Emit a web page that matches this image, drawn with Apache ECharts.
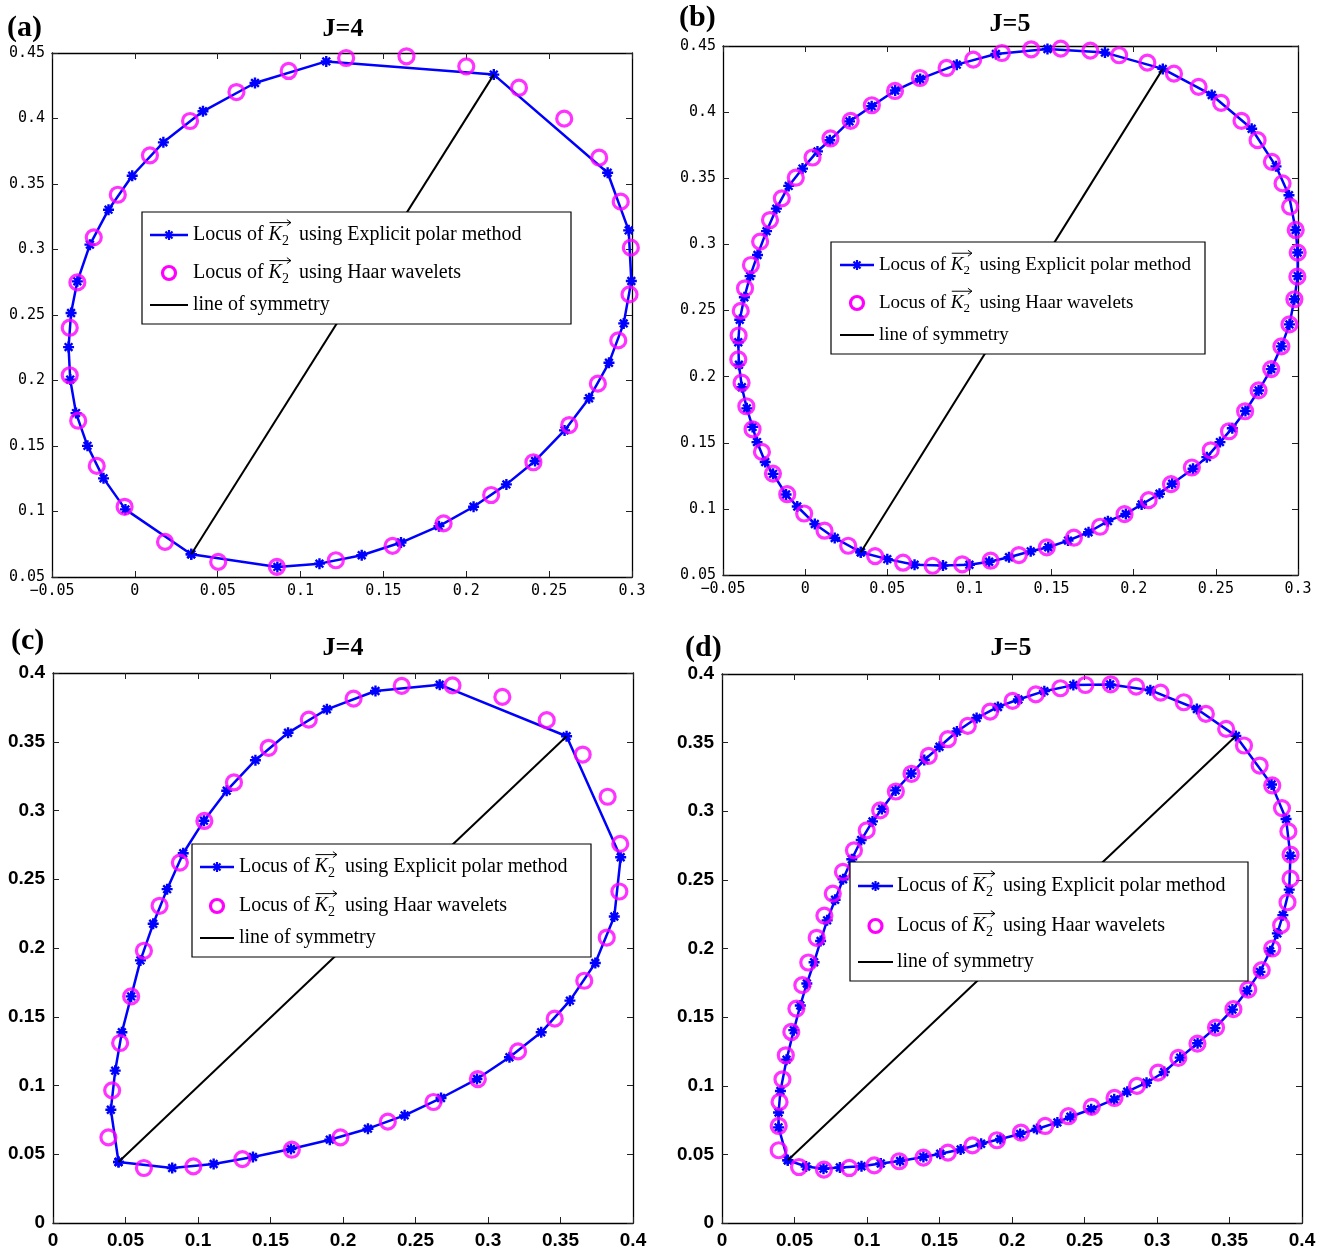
<!DOCTYPE html>
<html>
<head>
<meta charset="utf-8">
<title>Locus of K2</title>
<script src="https://cdn.jsdelivr.net/npm/echarts@6/dist/echarts.min.js"></script>
<style>
  html, body { margin: 0; padding: 0; background: #fff; }
  #main { width: 1320px; height: 1251px; }
</style>
</head>
<body>
<div id="main"></div>
<script>
// values, [x, y] in the order the locus is traced
var explicitA = [
  [0.034, 0.0674], [0.086, 0.0577], [0.1114, 0.0602], [0.1369, 0.0666], [0.1606, 0.0763], [0.1835, 0.0888],
  [0.2044, 0.1036], [0.2242, 0.1207], [0.2415, 0.1386], [0.2593, 0.1619], [0.2741, 0.1864], [0.2861, 0.2135],
  [0.295, 0.2436], [0.2996, 0.2759], [0.298, 0.3146], [0.2853, 0.3586], [0.2166, 0.4335], [0.1155, 0.4436],
  [0.0725, 0.4271], [0.0411, 0.4055], [0.0172, 0.3818], [-0.0016, 0.3563], [-0.0159, 0.3304], [-0.0271, 0.3037],
  [-0.0347, 0.2757], [-0.0385, 0.2515], [-0.040, 0.2255], [-0.039, 0.2007], [-0.0355, 0.1751], [-0.0286, 0.1501],
  [-0.0189, 0.1253], [-0.0057, 0.1016]
];
var haarA = [
  [0.0857, 0.0577], [0.1213, 0.0628], [0.1555, 0.0738], [0.1863, 0.0909], [0.215, 0.1126], [0.2405, 0.1376],
  [0.2621, 0.166], [0.2794, 0.1976], [0.2917, 0.2306], [0.2985, 0.2657], [0.2993, 0.3014], [0.2932, 0.3365],
  [0.2802, 0.3701], [0.2591, 0.3999], [0.2318, 0.4235], [0.2, 0.4398], [0.1639, 0.4475], [0.1275, 0.4462],
  [0.0928, 0.4363], [0.0613, 0.4202], [0.0333, 0.3981], [0.0091, 0.3719], [-0.0103, 0.3418], [-0.0248, 0.3093],
  [-0.0347, 0.2749], [-0.0393, 0.2403], [-0.0393, 0.204], [-0.0342, 0.1693], [-0.023, 0.1348], [-0.0062, 0.1036],
  [0.0182, 0.0768], [0.0503, 0.0615]
];
var symA = [[0.034, 0.0674], [0.2166, 0.4335]];

var explicitB = [
  [0.0339, 0.0672], [0.05, 0.062], [0.0666, 0.0578], [0.0839, 0.0571], [0.1, 0.0578], [0.112, 0.06],
  [0.1241, 0.0634], [0.1373, 0.0679], [0.148, 0.071], [0.16, 0.076], [0.1725, 0.0823], [0.1843, 0.0907],
  [0.1952, 0.0962], [0.2048, 0.1033], [0.2157, 0.1114], [0.2234, 0.119], [0.2361, 0.1303], [0.2445, 0.1391],
  [0.2525, 0.1505], [0.26, 0.161], [0.268, 0.174], [0.276, 0.1895], [0.2837, 0.2057], [0.2899, 0.2229],
  [0.2948, 0.2395], [0.2978, 0.2585], [0.2998, 0.276], [0.2998, 0.2938], [0.2986, 0.3109], [0.2945, 0.3372],
  [0.2866, 0.359], [0.2718, 0.3874], [0.2475, 0.413], [0.2177, 0.4327], [0.1825, 0.445], [0.1475, 0.4477],
  [0.1161, 0.444], [0.0923, 0.4359], [0.07, 0.4251], [0.0548, 0.4163], [0.0405, 0.4045], [0.027, 0.393],
  [0.015, 0.3787], [0.0075, 0.3703], [-0.0016, 0.3573], [-0.010, 0.3442], [-0.0175, 0.327], [-0.0235, 0.31],
  [-0.029, 0.292], [-0.0335, 0.276], [-0.037, 0.26], [-0.0398, 0.243], [-0.0407, 0.226], [-0.0403, 0.209],
  [-0.0385, 0.192], [-0.0355, 0.176], [-0.032, 0.162], [-0.0293, 0.1505], [-0.0243, 0.1354], [-0.0195, 0.1265],
  [-0.0116, 0.1109], [-0.0048, 0.1018], [0.0059, 0.0886], [0.018, 0.078]
];
var haarB = [
  [-0.0392, 0.2497], [-0.0366, 0.2668], [-0.033, 0.2844], [-0.0274, 0.3021], [-0.0214, 0.3184], [-0.0142, 0.3348],
  [-0.0057, 0.3504], [0.0045, 0.3657], [0.0154, 0.3801], [0.0277, 0.3934], [0.0406, 0.4052], [0.0547, 0.416],
  [0.0699, 0.4258], [0.0861, 0.4334], [0.1023, 0.4397], [0.1198, 0.4447], [0.1376, 0.4475], [0.1556, 0.448],
  [0.1736, 0.4465], [0.1911, 0.443], [0.2083, 0.4374], [0.2245, 0.4291], [0.2395, 0.4191], [0.2532, 0.407],
  [0.2656, 0.3934], [0.2754, 0.3788], [0.2841, 0.3624], [0.2906, 0.3461], [0.2952, 0.3285], [0.2986, 0.3109],
  [0.2998, 0.2938], [0.2996, 0.2756], [0.2978, 0.2585], [0.2948, 0.2395], [0.2899, 0.2229], [0.2837, 0.2057],
  [0.276, 0.1896], [0.2678, 0.1738], [0.258, 0.1587], [0.2469, 0.1443], [0.2354, 0.1313], [0.2227, 0.1187],
  [0.2091, 0.1066], [0.1944, 0.096], [0.1795, 0.0865], [0.1636, 0.0782], [0.1471, 0.0709], [0.1301, 0.0651],
  [0.1129, 0.0608], [0.0956, 0.0581], [0.0776, 0.057], [0.0596, 0.0593], [0.0426, 0.0643], [0.0262, 0.0721],
  [0.0118, 0.0835], [-0.0006, 0.0965], [-0.0109, 0.1111], [-0.0196, 0.1267], [-0.0263, 0.1431], [-0.032, 0.1602],
  [-0.0358, 0.1776], [-0.0387, 0.1954], [-0.0407, 0.213], [-0.0405, 0.2311]
];
var symB = [[0.0339, 0.0672], [0.2177, 0.4327]];

var explicitC = [
  [0.0452, 0.0444], [0.0822, 0.04], [0.1108, 0.0429], [0.1379, 0.048], [0.1641, 0.0538], [0.1909, 0.0606],
  [0.2172, 0.0686], [0.2425, 0.0783], [0.2676, 0.0909], [0.2924, 0.1047], [0.3148, 0.1205], [0.3367, 0.1387],
  [0.3565, 0.1617], [0.374, 0.1891], [0.3871, 0.2229], [0.3915, 0.266], [0.3542, 0.354], [0.2667, 0.3915],
  [0.2224, 0.3869], [0.1889, 0.3736], [0.1621, 0.3565], [0.1396, 0.3366], [0.1198, 0.3144], [0.1041, 0.2926],
  [0.0898, 0.2689], [0.0787, 0.2428], [0.0691, 0.2176], [0.0603, 0.191], [0.0539, 0.1648], [0.0475, 0.1387],
  [0.0429, 0.1108], [0.0399, 0.0824]
];
var haarC = [
  [0.0627, 0.04], [0.0968, 0.0412], [0.1306, 0.0465], [0.1647, 0.0533], [0.1982, 0.0623], [0.2309, 0.0737],
  [0.2624, 0.088], [0.293, 0.1047], [0.3207, 0.1248], [0.346, 0.1486], [0.3664, 0.1762], [0.3819, 0.2076],
  [0.3906, 0.2411], [0.3912, 0.2757], [0.3825, 0.31], [0.3653, 0.3407], [0.3405, 0.3657], [0.3099, 0.3826],
  [0.2755, 0.391], [0.2405, 0.3906], [0.2073, 0.3814], [0.1764, 0.3661], [0.1487, 0.3456], [0.1248, 0.3204],
  [0.1044, 0.2924], [0.0875, 0.2621], [0.0735, 0.2307], [0.0627, 0.198], [0.0539, 0.1648], [0.0463, 0.1309],
  [0.0408, 0.0965], [0.0382, 0.0623]
];
var symC = [[0.0452, 0.0444], [0.3542, 0.354]];

var explicitD = [
  [0.0454, 0.0457], [0.058, 0.0412], [0.070, 0.0395], [0.0813, 0.0404], [0.0962, 0.0413], [0.1095, 0.0433],
  [0.1228, 0.0452], [0.1389, 0.0481], [0.1505, 0.0505], [0.1646, 0.0536], [0.1787, 0.0577], [0.192, 0.0612],
  [0.2056, 0.0649], [0.2172, 0.0685], [0.2313, 0.0733], [0.2403, 0.0774], [0.2546, 0.0829], [0.2705, 0.0901],
  [0.2795, 0.0957], [0.2928, 0.1022], [0.305, 0.110], [0.316, 0.1205], [0.328, 0.131], [0.340, 0.142],
  [0.352, 0.1555], [0.362, 0.169], [0.371, 0.183], [0.378, 0.198], [0.383, 0.211], [0.3868, 0.2243],
  [0.3912, 0.2429], [0.392, 0.2676], [0.389, 0.2944], [0.379, 0.3195], [0.3544, 0.3549], [0.3275, 0.3745],
  [0.2954, 0.3882], [0.2677, 0.3924], [0.2423, 0.3919], [0.2223, 0.3875], [0.2044, 0.3814], [0.1903, 0.376],
  [0.1756, 0.3679], [0.162, 0.3581], [0.15, 0.347], [0.1395, 0.3373], [0.1305, 0.3275], [0.1197, 0.3152],
  [0.1103, 0.3017], [0.1038, 0.2926], [0.096, 0.279], [0.0895, 0.265], [0.0835, 0.2505], [0.078, 0.2355],
  [0.0725, 0.2205], [0.068, 0.2055], [0.0635, 0.19], [0.0585, 0.1745], [0.054, 0.1585], [0.0495, 0.1405],
  [0.0445, 0.119], [0.0403, 0.0962], [0.039, 0.0805], [0.039, 0.0697]
];
var haarD = [
  [0.0531, 0.0408], [0.0703, 0.0389], [0.0878, 0.0401], [0.105, 0.042], [0.1222, 0.045], [0.1389, 0.0476],
  [0.1558, 0.0513], [0.1727, 0.0566], [0.1896, 0.0603], [0.2062, 0.0659], [0.2229, 0.0707], [0.2389, 0.0778],
  [0.255, 0.0846], [0.2707, 0.0911], [0.2862, 0.0999], [0.3007, 0.1096], [0.3147, 0.1203], [0.3279, 0.1307],
  [0.3407, 0.1424], [0.3527, 0.1558], [0.3629, 0.1701], [0.3722, 0.1842], [0.3795, 0.2], [0.3856, 0.217],
  [0.39, 0.2337], [0.3921, 0.2509], [0.3921, 0.2684], [0.3906, 0.2853], [0.3862, 0.3023], [0.3795, 0.3188],
  [0.3708, 0.3333], [0.36, 0.3479], [0.3477, 0.36], [0.3337, 0.3709], [0.3185, 0.3794], [0.3025, 0.3864],
  [0.2856, 0.3908], [0.2681, 0.3925], [0.2506, 0.392], [0.2334, 0.3896], [0.2164, 0.3852], [0.2004, 0.3804],
  [0.1849, 0.3726], [0.1695, 0.3622], [0.1558, 0.3525], [0.1426, 0.3404], [0.1307, 0.3273], [0.1199, 0.3144],
  [0.1091, 0.3006], [0.0998, 0.2861], [0.091, 0.2715], [0.0834, 0.2558], [0.0764, 0.24], [0.0706, 0.224],
  [0.0653, 0.2078], [0.0595, 0.1898], [0.0554, 0.1733], [0.0513, 0.1562], [0.0478, 0.1392], [0.044, 0.1222],
  [0.0417, 0.1047], [0.0397, 0.0882], [0.0391, 0.0707], [0.0391, 0.053]
];
var symD = [[0.0454, 0.0457], [0.3544, 0.3549]];

var panelLabels = ['(a)', '(b)', '(c)', '(d)'];
var panelTitles = ['J=4', 'J=5', 'J=4', 'J=5'];
var xRangeTop = [-0.05, 0.3];
var yRangeTop = [0.05, 0.45];
var rangeBottom = [0, 0.4];
var tickStep = 0.05;
var legendRows = ['Explicit polar method', 'Haar wavelets', 'line of symmetry'];

var serif = '"Liberation Serif", "Times New Roman", serif';
var mono = '"DejaVu Sans Mono", monospace';
var narrow = '"Liberation Sans Narrow", "Liberation Sans", Arial, sans-serif';
var starPath = 'path://M5,0L5,10M0,5L10,5M1.5,1.5L8.5,8.5M1.5,8.5L8.5,1.5';

var panels = [
  { explicit: explicitA, haar: haarA, sym: symA, xr: xRangeTop, yr: yRangeTop,
    grid: { left: 52, top: 53, width: 580, height: 524 },
    label: [7, 28], title: [343, 29],
    legend: { box: [142, 212, 571, 324], line: [150, 188], tx: 193, rows: [235, 273, 305], fs: 20 } },
  { explicit: explicitB, haar: haarB, sym: symB, xr: xRangeTop, yr: yRangeTop,
    grid: { left: 723, top: 46, width: 575, height: 529 },
    label: [679, 18], title: [1010, 24],
    legend: { box: [831, 242, 1205, 354], line: [840, 874], tx: 879, rows: [265, 303, 335], fs: 19 } },
  { explicit: explicitC, haar: haarC, sym: symC, xr: rangeBottom, yr: rangeBottom,
    grid: { left: 53, top: 673, width: 580, height: 550 },
    label: [11, 641], title: [343, 648],
    legend: { box: [192, 844, 591, 957], line: [200, 234], tx: 239, rows: [867, 906, 938], fs: 20 } },
  { explicit: explicitD, haar: haarD, sym: symD, xr: rangeBottom, yr: rangeBottom,
    grid: { left: 722, top: 674, width: 580, height: 549 },
    label: [685, 648], title: [1011, 648],
    legend: { box: [850, 862, 1248, 981], line: [858, 893], tx: 897, rows: [886, 926, 962], fs: 20 } }
];

var measureCtx = document.createElement('canvas').getContext('2d');
function textWidth(str, font) {
  measureCtx.font = font;
  return measureCtx.measureText(str).width;
}

function tickFormat(v) {
  return String(+v.toFixed(2)).replace('-', '\u2212');
}

function axisPair(i, dim, range, labelStyle) {
  var base = {
    gridIndex: i, type: 'value', min: range[0], max: range[1], interval: tickStep,
    axisLine: { show: true, onZero: false, lineStyle: { color: '#000', width: 1.3 } },
    axisTick: { show: true, inside: true, length: 6, lineStyle: { color: '#222', width: 1 } },
    splitLine: { show: false }
  };
  var main = Object.assign({}, base, {
    position: dim === 'x' ? 'bottom' : 'left',
    axisLabel: Object.assign({ color: '#000', formatter: tickFormat }, labelStyle)
  });
  var mirror = Object.assign({}, base, {
    position: dim === 'x' ? 'top' : 'right',
    axisLabel: { show: false }
  });
  return [main, mirror];
}

// small asterisk drawn from four strokes, for the legend sample
function starLines(cx, cy, r, color) {
  var d = r * 0.7;
  return [[0, -r, 0, r], [-r, 0, r, 0], [-d, -d, d, d], [-d, d, d, -d]].map(function (s) {
    return { type: 'line', shape: { x1: cx + s[0], y1: cy + s[1], x2: cx + s[2], y2: cy + s[3] },
      style: { stroke: color, lineWidth: 2.2 } };
  });
}

function legendGraphic(L) {
  var fs = L.fs, sub = Math.round(fs * 0.68);
  var rich = {
    n: { fontFamily: serif, fontSize: fs, lineHeight: fs + 6, verticalAlign: 'middle', fill: '#000' },
    k: { fontFamily: serif, fontSize: fs, fontStyle: 'italic', lineHeight: fs + 6, verticalAlign: 'middle', fill: '#000' },
    s: { fontFamily: serif, fontSize: sub, lineHeight: sub, verticalAlign: 'bottom', fill: '#000' }
  };
  var pre = 'Locus of ';
  var wPre = textWidth(pre, fs + 'px ' + serif);
  var wK = textWidth('K', 'italic ' + fs + 'px ' + serif);
  var w2 = textWidth('2', sub + 'px ' + serif);
  var b = L.box, mid = (L.line[0] + L.line[1]) / 2;
  var els = [
    { type: 'rect', shape: { x: b[0], y: b[1], width: b[2] - b[0], height: b[3] - b[1] },
      style: { fill: '#fff', stroke: '#000', lineWidth: 1.2 } },
    { type: 'line', shape: { x1: L.line[0], y1: L.rows[0], x2: L.line[1], y2: L.rows[0] },
      style: { stroke: '#0000ff', lineWidth: 2.5 } },
    { type: 'circle', shape: { cx: mid, cy: L.rows[1], r: 6.5 },
      style: { fill: null, stroke: '#ff00ff', lineWidth: 3.2 } },
    { type: 'line', shape: { x1: L.line[0], y1: L.rows[2], x2: L.line[1], y2: L.rows[2] },
      style: { stroke: '#000', lineWidth: 2 } },
    { type: 'text', x: L.tx, y: L.rows[2],
      style: { text: legendRows[2], font: fs + 'px ' + serif, fill: '#000', verticalAlign: 'middle' } }
  ].concat(starLines(mid, L.rows[0], 5, '#0000ff'));
  [0, 1].forEach(function (r) {
    var y = L.rows[r];
    els.push({ type: 'text', x: L.tx, y: y,
      style: { text: '{n|' + pre + '}{k|K}{s|2}{n|  using ' + legendRows[r] + '}', rich: rich, verticalAlign: 'middle' } });
    var ax0 = L.tx + wPre + 1, ax1 = L.tx + wPre + wK + w2 + 2, ay = y - fs * 0.62;
    els.push({ type: 'line', shape: { x1: ax0, y1: ay, x2: ax1, y2: ay }, style: { stroke: '#000', lineWidth: 1 } });
    els.push({ type: 'polyline', shape: { points: [[ax1 - 4, ay - 3], [ax1, ay], [ax1 - 4, ay + 3]] },
      style: { stroke: '#000', lineWidth: 1, fill: null } });
  });
  // keep the legend box above the plotted lines
  els.forEach(function (el, k) { el.z = 100 + (k === 0 ? 0 : 1); });
  return { type: 'group', children: els };
}

var grids = [], xAxes = [], yAxes = [], series = [], graphics = [];
panels.forEach(function (p, i) {
  grids.push(p.grid);
  var labelStyle = i < 2
    ? { fontFamily: mono, fontSize: 15, margin: 7 }
    : { fontFamily: narrow, fontSize: 19, fontWeight: 'bold', margin: 8 };
  xAxes = xAxes.concat(axisPair(i, 'x', p.xr, labelStyle));
  yAxes = yAxes.concat(axisPair(i, 'y', p.yr, labelStyle));
  series.push({
    name: 'Locus of K2 using Explicit polar method', type: 'line',
    xAxisIndex: 2 * i, yAxisIndex: 2 * i,
    data: p.explicit.concat([p.explicit[0]]),
    symbol: starPath, symbolSize: 11, showSymbol: true,
    lineStyle: { color: '#0000ff', width: 2.5 },
    itemStyle: { color: '#0000ff', borderColor: '#0000ff', borderWidth: 2.4 },
    z: 2
  });
  series.push({
    name: 'Locus of K2 using Haar wavelets', type: 'scatter',
    xAxisIndex: 2 * i, yAxisIndex: 2 * i,
    data: p.haar, symbol: 'circle', symbolSize: 15,
    itemStyle: { color: 'rgba(0,0,0,0)', borderColor: '#ff00ff', borderWidth: 3.2 },
    z: 3
  });
  series.push({
    name: 'line of symmetry', type: 'line',
    xAxisIndex: 2 * i, yAxisIndex: 2 * i,
    data: p.sym, showSymbol: false,
    lineStyle: { color: '#000', width: 2 },
    z: 4
  });
  graphics.push({ type: 'text', x: p.label[0], y: p.label[1],
    style: { text: panelLabels[i], font: 'bold 30px ' + serif, fill: '#000', verticalAlign: 'middle' } });
  graphics.push({ type: 'text', x: p.title[0], y: p.title[1],
    style: { text: panelTitles[i], font: 'bold 26px ' + serif, fill: '#000', align: 'center', verticalAlign: 'middle' } });
  graphics.push(legendGraphic(p.legend));
});

var chart = echarts.init(document.getElementById('main'));
chart.setOption({
  backgroundColor: '#fff',
  animation: false,
  grid: grids,
  xAxis: xAxes,
  yAxis: yAxes,
  series: series,
  graphic: graphics
});
</script>
</body>
</html>
